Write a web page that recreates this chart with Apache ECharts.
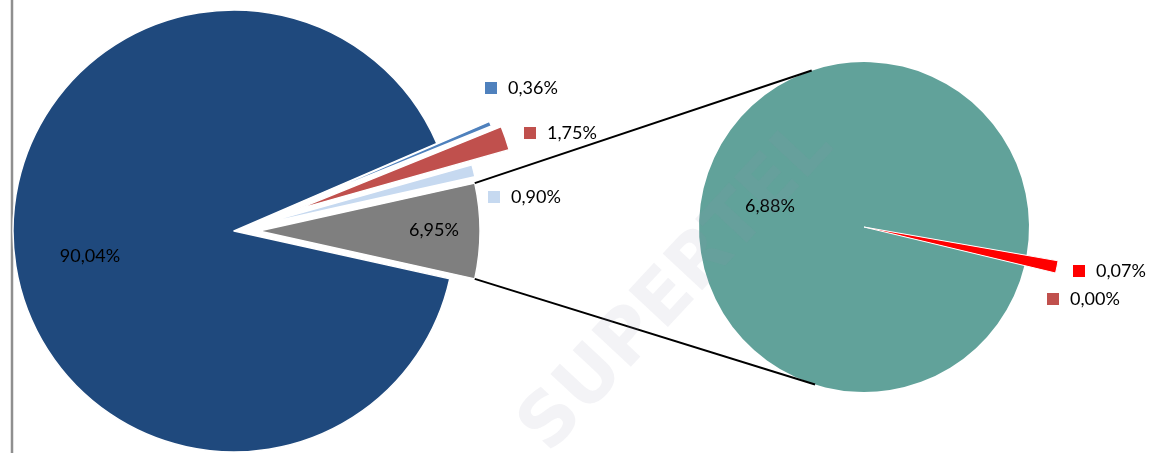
<!DOCTYPE html>
<html>
<head>
<meta charset="utf-8">
<title>ECharts</title>
<script src="https://cdn.jsdelivr.net/npm/echarts@6/dist/echarts.min.js"></script>
<style type="text/css">
	html, body { height: 100%; margin: 0; background: #fff; }
</style>
</head>
<body>
<div id="main" style="width:1153px;height:453px;"></div>
<script type="text/javascript">

var mainNames = ['Parte 1', 'Parte 2', 'Parte 3', 'Parte 4', 'Parte 5'];
var mainValues = [90.04, 0.36, 1.75, 0.90, 6.95];
var subNames = ['Sub 1', 'Sub 2', 'Sub 3'];
var subValues = [6.88, 0.07, 0.00];

var mainColors = ['#1f497d', '#4f81bd', '#c0504d', '#c6d9f0', '#7f7f7f'];
var subColors = ['#61a29a', '#ff0000', '#c0504d'];
var mainKeyed = [false, true, true, true, false];   // label with a small colour key
var subKeyed = [false, true, true];
var mainExplode = [0, 57, 66, 26, 25];              // how far each slice is pulled out (px)

// geometry (pixels)
var L = { cx: 234, cy: 231, r: 221 };
var R = { cx: 864, cy: 227, r: 165, rBig: 197 };
var mainLabelPos = [[90, 256, 'center'], [485, 88, 'left'], [524, 133, 'left'], [488, 197, 'left'], [434, 230, 'center']];
var subLabelPos = [[770, 206, 'center'], [1073, 271, 'left'], [1047, 299, 'left']];

var FONT = 'Lato';
var FS = 18;
var CLEAR = 'rgba(0,0,0,0)';

function pct(v) { return v.toFixed(2).replace('.', ',') + '%'; }
function sum(a) { return a.reduce(function (s, x) { return s + x; }, 0); }

// left pie: last slice centred on the horizontal
var lastIdx = mainValues.length - 1;
var lastShare = mainValues[lastIdx] / sum(mainValues) * 360;
var startMain = 360 - lastShare / 2;

// right pie: small red slice pointing slightly below horizontal
var subTotal = sum(subValues);
var redAngle = subValues[1] / subTotal * 360;
var tealAngle = subValues[0] / subTotal * 360;
var redMid = -11.7;
var startSub = redMid + redAngle / 2 + tealAngle;

function makeRich(colors) {
	var rich = {
		t: { fontFamily: FONT, fontSize: FS, color: '#000', padding: [0, 0, 0, 11] },
		c: { fontFamily: FONT, fontSize: FS, color: '#000' }
	};
	colors.forEach(function (c, i) {
		rich['k' + i] = { width: 12, height: 12, backgroundColor: c };
	});
	return rich;
}
function makeFmt(keyed) {
	return function (p) {
		return keyed[p.dataIndex] ? '{k' + p.dataIndex + '|}{t|' + pct(p.value) + '}' : '{c|' + pct(p.value) + '}';
	};
}
function makeLayout(pos) {
	return function (p) {
		var s = pos[p.dataIndex];
		return { x: s[0], y: s[1], align: s[2], verticalAlign: 'middle' };
	};
}

// connector lines: from the exploded slice corners, tangent to the right pie
var half = lastShare / 2 * Math.PI / 180;
var apex = [L.cx + mainExplode[lastIdx], L.cy];
var cTop = [apex[0] + L.r * Math.cos(half), apex[1] - L.r * Math.sin(half)];
var cBot = [apex[0] + L.r * Math.cos(half), apex[1] + L.r * Math.sin(half)];
function tangent(p, sign) {
	var dx = p[0] - R.cx, dy = p[1] - R.cy, d = Math.sqrt(dx * dx + dy * dy);
	var a = Math.atan2(dy, dx) + sign * Math.acos(R.r / d);
	return [R.cx + R.r * Math.cos(a), R.cy + R.r * Math.sin(a)];
}
var tTop = tangent(cTop, 1);
var tBot = tangent(cBot, -1);

// one pie layer per explode distance; slices of other layers are transparent
var offsets = mainExplode.filter(function (v, i, a) { return a.indexOf(v) === i; });
var mainLayers = offsets.map(function (off) {
	return {
		type: 'pie',
		z: 2,
		center: [L.cx, L.cy],
		radius: L.r,
		startAngle: startMain,
		clockwise: true,
		selectedMode: 'multiple',
		selectedOffset: off,
		silent: true,
		itemStyle: { borderColor: '#fff', borderWidth: 1.5 },
		select: { itemStyle: { borderColor: '#fff', borderWidth: 1.5 } },
		label: { show: false },
		labelLine: { show: false },
		data: mainValues.map(function (v, i) {
			var mine = mainExplode[i] === off;
			return {
				name: mainNames[i], value: v, selected: off > 0,
				itemStyle: mine ? { color: mainColors[i] } : { color: CLEAR, borderWidth: 0 },
				select: mine ? {} : { itemStyle: { color: CLEAR, borderWidth: 0 } }
			};
		})
	};
});

var subBase = subValues.map(function (v, i) {
	return { name: subNames[i], value: v, itemStyle: { color: i === 0 ? subColors[0] : CLEAR } };
});
var subTop = subValues.map(function (v, i) {
	return { name: subNames[i], value: v, itemStyle: { color: i === 0 ? CLEAR : subColors[i], borderWidth: i === 1 ? 1 : 0 } };
});

var dom = document.getElementById('main');
var myChart = echarts.init(dom, null, { renderer: 'canvas' });
var option = {
	animation: false,
	backgroundColor: '#fff',
	series: mainLayers.concat([
		{
			// same pie, invisible, only carries the labels
			type: 'pie',
			z: 5,
			center: [L.cx, L.cy],
			radius: L.r,
			startAngle: startMain,
			clockwise: true,
			silent: true,
			avoidLabelOverlap: false,
			itemStyle: { color: CLEAR, borderWidth: 0 },
			label: { show: true, position: 'inside', formatter: makeFmt(mainKeyed), rich: makeRich(mainColors) },
			labelLine: { show: false },
			labelLayout: makeLayout(mainLabelPos),
			data: mainValues.map(function (v, i) { return { name: mainNames[i], value: v }; })
		},
		{
			type: 'pie',
			z: 2,
			center: [R.cx, R.cy],
			radius: R.r,
			startAngle: startSub,
			clockwise: true,
			silent: true,
			itemStyle: { borderWidth: 0 },
			label: { show: false },
			labelLine: { show: false },
			data: subBase
		},
		{
			type: 'pie',
			z: 3,
			center: [R.cx, R.cy],
			radius: R.rBig,
			startAngle: startSub,
			clockwise: true,
			avoidLabelOverlap: false,
			silent: true,
			itemStyle: { borderColor: '#fff' },
			label: { show: true, position: 'inside', formatter: makeFmt(subKeyed), rich: makeRich(subColors) },
			labelLine: { show: false },
			labelLayout: makeLayout(subLabelPos),
			data: subTop
		}
	]),
	graphic: [
		{ type: 'line', z: 1, shape: { x1: 12, y1: 0, x2: 12, y2: 453 }, style: { stroke: '#8f8f8f', lineWidth: 2.5 } },
		{ type: 'line', z: 10, shape: { x1: cTop[0], y1: cTop[1], x2: tTop[0], y2: tTop[1] }, style: { stroke: '#000', lineWidth: 2 } },
		{ type: 'line', z: 10, shape: { x1: cBot[0], y1: cBot[1], x2: tBot[0], y2: tBot[1] }, style: { stroke: '#000', lineWidth: 2 } },
		{
			type: 'text', z: 20, x: 678, y: 288, rotation: 47 * Math.PI / 180,
			style: { text: 'SUPERTEL', fill: 'rgba(150,150,170,0.11)', font: 'bold 74px "DejaVu Sans"', align: 'center', verticalAlign: 'middle' }
		}
	]
};
myChart.setOption(option);

</script>
</body>
</html>
